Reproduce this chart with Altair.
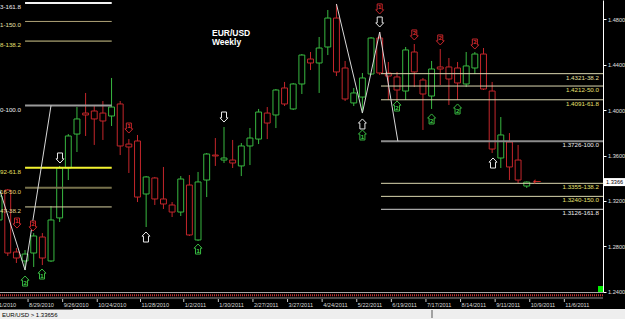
import altair as alt
import pandas as pd

# ---------------- data ----------------
# weekly candles, index 0 = week of 2010-08-08
idx = list(range(62))
opens = [1.3032,1.3296,1.2750,1.2671,1.2741,1.2882,1.2671,1.3050,1.3490,1.3789,
         1.3974,1.3992,1.3974,1.3948,1.4054,1.3701,1.3728,1.3261,1.3402,1.3217,
         1.3164,1.3102,1.3340,1.2856,1.3384,1.3604,1.3560,1.3560,1.3508,1.3684,
         1.3745,1.3974,1.3957,1.4195,1.4010,1.4230,1.4450,1.4415,1.4556,1.4811,
         1.4371,1.4063,1.4115,1.4318,1.4635,1.4327,1.4292,1.4168,1.4512,1.4265,
         1.4124,1.4380,1.4380,1.4371,1.4230,1.4371,1.4494,1.4168,1.3578,1.3719,
         1.3560,1.3331]
closes = [1.3243,1.2741,1.2697,1.2732,1.2891,1.2697,1.3032,1.3490,1.3772,1.3922,
          1.3957,1.3922,1.3904,1.4027,1.3684,1.3675,1.3234,1.3411,1.3217,1.3173,
          1.3102,1.3393,1.2900,1.3367,1.3613,1.3596,1.3578,1.3534,1.3684,1.3754,
          1.3983,1.3886,1.4177,1.4054,1.4230,1.4485,1.4415,1.4547,1.4811,1.4336,
          1.4098,1.4151,1.4283,1.4635,1.4327,1.4300,1.4177,1.4530,1.4336,1.4142,
          1.4362,1.4362,1.4274,1.4239,1.4389,1.4494,1.4186,1.3657,1.3781,1.3499,
          1.3384,1.3366]
highs = [1.3314,1.3305,1.2785,1.2767,1.2917,1.2917,1.3155,1.3508,1.3789,1.4027,
         1.4151,1.4045,1.4080,1.4283,1.4080,1.3745,1.3781,1.3419,1.3411,1.3499,
         1.3190,1.3419,1.3428,1.3455,1.3622,1.3754,1.3851,1.3737,1.3710,1.3842,
         1.4010,1.4027,1.4186,1.4248,1.4239,1.4494,1.4512,1.4644,1.4882,1.4935,
         1.4433,1.4195,1.4327,1.4644,1.4688,1.4424,1.4336,1.4556,1.4582,1.4283,
         1.4433,1.4538,1.4459,1.4424,1.4512,1.4512,1.4547,1.4248,1.3939,1.3798,
         1.3693,1.3372]
lows = [1.2997,1.2715,1.2653,1.2591,1.2618,1.2635,1.2662,1.3014,1.3384,1.3631,
        1.3772,1.3693,1.3737,1.3860,1.3604,1.3446,1.3190,1.2970,1.3164,1.3129,
        1.3058,1.3067,1.2891,1.2847,1.3234,1.3508,1.3534,1.3490,1.3419,1.3516,
        1.3701,1.3745,1.3842,1.4036,1.4001,1.4142,1.4353,1.4151,1.4485,1.4300,
        1.4080,1.4036,1.3974,1.4309,1.4309,1.4089,1.4080,1.4089,1.4203,1.3825,
        1.4010,1.4221,1.4045,1.4089,1.4203,1.4318,1.4177,1.3622,1.3490,1.3384,
        1.3358,1.3314]
current_price = 1.3366

tick_i = [-1, 3, 7, 11, 16, 21, 25, 29, 33, 37, 41, 45, 49, 53, 57, 61, 65]
tick_text = ["8/1/2010", "8/29/2010", "9/26/2010", "10/24/2010", "11/28/2010",
             "1/2/2011", "1/30/2011", "2/27/2011", "3/27/2011", "4/24/2011",
             "5/22/2011", "6/19/2011", "7/17/2011", "8/14/2011", "9/11/2011",
             "10/9/2011", "11/6/2011"]
price_ticks = [1.24, 1.28, 1.32, 1.36, 1.40, 1.44, 1.48]

# Fibonacci sets
left_levels = ["161.8", "150.0", "138.2", "100.0", "61.8", "50.0", "38.2"]
left_prices = [1.4943, 1.4781, 1.4608, 1.4040, 1.3492, 1.3316, 1.3147]
left_line_colors = ["#f2f2f2", "#b0a378", "#d4ca8e", "#9a9a9a", "#f4f430", "#77724c", "#d8d0a2"]
left_line_widths = [2, 1, 1, 2, 2, 2, 1]
left_text_colors = ["#eeeeee", "#e8e2a8", "#e8e070", "#eeeeee", "#e8e060", "#e0d870", "#e0d890"]
left_start, left_end = 3.0, 13.02

right_levels = ["38.2", "50.0", "61.8", "100.0", "138.2", "150.0", "161.8"]
right_prices = [1.4321, 1.4212, 1.4091, 1.3726, 1.3355, 1.3240, 1.3126]
right_line_colors = ["#dcd8b0", "#dcd8b0", "#dcd8b0", "#8c8c8c", "#dcd8b0", "#dcd8b0", "#d0d0d0"]
right_line_widths = [1, 1, 1, 2, 1, 1, 1]
right_text_colors = ["#e8e0a0", "#e8e070", "#e8e070", "#eeeeee", "#e8e070", "#e8e070", "#eeeeee"]
right_start, right_end = 44.15, 69.815

# zigzag / fibo base lines
zz_seg = [0, 0, 0, 1, 1, 1, 1]
zz_i = [0.0, 3.0, 6.0, 39.0, 42.0, 44.0, 46.1]
zz_p = [1.3314, 1.2591, 1.4040, 1.4935, 1.3974, 1.4688, 1.3726]

# arrow signals
arr_i = [2.07, 3.92, 3.0, 4.96, 7.04, 15.0, 16.98, 23.0, 26.0, 42.0, 42.0,
         44.0, 44.0, 46.0, 48.0, 51.0, 55.0, 50.0, 53.0, 57.1]
arr_p = [1.3005, 1.2979, 1.2494, 1.2556, 1.3578, 1.3842, 1.2882, 1.2776, 1.3939,
         1.3878, 1.3781, 1.4891, 1.4776, 1.4036, 1.4662, 1.4618, 1.4582,
         1.3922, 1.4010, 1.3534]
arr_dir = ["down", "down", "up", "up", "down", "down", "up", "up", "down",
           "up", "up", "down", "down", "up", "down", "down", "down", "up", "up", "up"]
arr_col = ["red", "red", "green", "green", "white", "red", "white", "green", "white",
           "white", "green", "red", "white", "green", "red", "red", "red", "green", "green", "white"]
arr_num = ["1", "2", "2", "1", "", "1", "", "1", "", "", "1", "1", "", "2", "2", "2", "2", "2", "2", ""]

# ---------------- styling ----------------
GREEN = "#38b840"
RED = "#c4262b"
col_map = {"green": GREEN, "red": RED, "white": "#e8e8e8"}
FONT = "Liberation Sans, Arial, sans-serif"

candles = pd.DataFrame({"i": idx, "open": opens, "high": highs, "low": lows, "close": closes})
candles["dir"] = ["up" if c >= o else "down" for o, c in zip(opens, closes)]

fib = pd.DataFrame({
    "x0": [left_start] * 7 + [right_start] * 7,
    "x1": [left_end] * 7 + [right_end] * 7,
    "p": left_prices + right_prices,
    "col": left_line_colors + right_line_colors,
    "w": left_line_widths + right_line_widths,
    "tcol": left_text_colors + right_text_colors,
    "label": [f"{p:.4f}-{l}" for p, l in zip(left_prices, left_levels)]
             + [f"{p:.4f}-{l}" for p, l in zip(right_prices, right_levels)],
    "side": ["L"] * 7 + ["R"] * 7,
})
fib["lx"] = [2.53 if s == "L" else 69.35 for s in fib["side"]]

zz = pd.DataFrame({"seg": zz_seg, "i": zz_i, "p": zz_p, "o": list(range(len(zz_i)))})
arrows = pd.DataFrame({"i": arr_i, "p": arr_p, "dir": arr_dir,
                       "col": [col_map[c] for c in arr_col], "num": arr_num})
ticks = pd.DataFrame({"i": tick_i, "t": tick_text})
cur = pd.DataFrame({"p": [current_price], "i": [61.0], "t": [f"{current_price:.4f}"]})
one = pd.DataFrame({"a": [0]})

xs = alt.Scale(domain=[0.104, 69.815], nice=False, zero=False)
ys = alt.Scale(domain=[1.23975, 1.4970], nice=False, zero=False)
yax = alt.Axis(orient="right", values=price_ticks, format=".4f", title=None, grid=False,
               domainColor="#ffffff", domainWidth=1, tickColor="#ffffff", tickSize=3,
               labelColor="#e0e0e0", labelFont=FONT, labelFontSize=5.6, labelPadding=1.5,
               labelOverlap=False)


def X(f):
    return alt.X(f, type="quantitative", scale=xs, axis=None)


def Y(f):
    return alt.Y(f, type="quantitative", scale=ys, axis=yax)


dir_scale = alt.Scale(domain=["up", "down"], range=[GREEN, RED])

wicks = alt.Chart(candles).mark_rule(strokeWidth=1).encode(
    x=X("i"), y=Y("low"), y2=alt.Y2("high"),
    color=alt.Color("dir:N", scale=dir_scale, legend=None))

bodies = alt.Chart(candles).transform_calculate(
    x0="datum.i - 0.34", x1="datum.i + 0.34"
).mark_rect(fill="black", strokeWidth=1).encode(
    x=X("x0:Q"), x2=alt.X2("x1:Q"), y=Y("open"), y2=alt.Y2("close"),
    stroke=alt.Stroke("dir:N", scale=dir_scale, legend=None))

fib_lines = alt.Chart(fib).mark_rule().encode(
    x=X("x0"), x2=alt.X2("x1"), y=Y("p"),
    color=alt.Color("col:N", scale=None), strokeWidth=alt.StrokeWidth("w:Q", scale=None))

fib_left_text = alt.Chart(fib).transform_filter("datum.side == 'L'").mark_text(
    align="right", baseline="top", dy=1, font=FONT, fontSize=6.2).encode(
    x=X("lx"), y=Y("p"), text="label:N", color=alt.Color("tcol:N", scale=None))

fib_right_text = alt.Chart(fib).transform_filter("datum.side == 'R'").mark_text(
    align="right", baseline="top", dy=1, font=FONT, fontSize=6.2).encode(
    x=X("lx"), y=Y("p"), text="label:N", color=alt.Color("tcol:N", scale=None))

zigzag = alt.Chart(zz).mark_line(strokeWidth=1, color="#d8d8d8").encode(
    x=X("i"), y=Y("p"), detail="seg:N", order="o:Q")

UP = "M0,-1.2L0.95,-0.2L0.6,-0.2L0.6,1.2L-0.6,1.2L-0.6,-0.2L-0.95,-0.2Z"
DOWN = "M0,1.2L0.95,0.2L0.6,0.2L0.6,-1.2L-0.6,-1.2L-0.6,0.2L-0.95,0.2Z"

up_arrows = alt.Chart(arrows).transform_filter("datum.dir == 'up'").mark_point(
    shape=UP, size=70, filled=True, fill="black", fillOpacity=1, strokeWidth=1, opacity=1).encode(
    x=X("i"), y=Y("p"), stroke=alt.Stroke("col:N", scale=None))
down_arrows = alt.Chart(arrows).transform_filter("datum.dir == 'down'").mark_point(
    shape=DOWN, size=70, filled=True, fill="black", fillOpacity=1, strokeWidth=1, opacity=1).encode(
    x=X("i"), y=Y("p"), stroke=alt.Stroke("col:N", scale=None))
up_nums = alt.Chart(arrows).transform_filter("datum.dir == 'up' && datum.num != ''").mark_text(
    dy=2, fontSize=5.5, fontWeight="bold", font="DejaVu Sans").encode(
    x=X("i"), y=Y("p"), text="num:N", color=alt.Color("col:N", scale=None))
down_nums = alt.Chart(arrows).transform_filter("datum.dir == 'down' && datum.num != ''").mark_text(
    dy=-2, fontSize=5.5, fontWeight="bold", font="DejaVu Sans").encode(
    x=X("i"), y=Y("p"), text="num:N", color=alt.Color("col:N", scale=None))

# bottom band and date axis
band_top = alt.Chart(one).mark_rule(color="#a8a8a8", strokeWidth=1).encode(
    x=alt.value(0), x2=alt.value(603), y=alt.value(292.5))
band_mid = alt.Chart(one).mark_rule(color="#c03030", strokeWidth=2, strokeDash=[1, 1]).encode(
    x=alt.value(0), x2=alt.value(603), y=alt.value(295.2))
band_bot = alt.Chart(one).mark_rule(color="#909090", strokeWidth=1).encode(
    x=alt.value(0), x2=alt.value(603), y=alt.value(298))
date_ticks = alt.Chart(ticks).mark_rule(color="#c8c8c8", strokeWidth=1, xOffset=3).encode(
    x=X("i"), y=alt.value(299), y2=alt.value(302))
date_text = alt.Chart(ticks).mark_text(align="left", baseline="middle", dx=4, font=FONT,
                                       fontSize=5.6, color="#d8d8d8").encode(
    x=X("i"), y=alt.value(304.5), text="t:N")

status_bg = alt.Chart(one).mark_rect(color="#eeeeee").encode(
    x=alt.value(0), x2=alt.value(625), y=alt.value(309), y2=alt.value(330))
status_line = alt.Chart(one).mark_rule(color="#777777", strokeWidth=1).encode(
    x=alt.value(0), x2=alt.value(73), y=alt.value(309.5))
status_sep = alt.Chart(one).mark_rule(color="#555555", strokeWidth=1).encode(
    x=alt.value(432), y=alt.value(310), y2=alt.value(318))
status_text = alt.Chart(pd.DataFrame({"t": [f"EUR/USD > {1.33656:.5f}"]})).mark_text(
    align="left", baseline="middle", font=FONT, fontSize=6, color="#000000").encode(
    x=alt.value(2), y=alt.value(314.5), text="t:N")

green_sq = alt.Chart(one).mark_rect(color="#00ee00").encode(
    x=alt.value(598), x2=alt.value(603), y=alt.value(286), y2=alt.value(292))

# current price label on axis
cur_box = alt.Chart(cur).mark_rule(color="#ffffff", strokeWidth=8, strokeCap="butt").encode(
    x=alt.value(604), x2=alt.value(625), y=Y("p"))
cur_text = alt.Chart(cur).mark_text(align="left", baseline="middle", font=FONT, fontSize=5.6,
                                    color="#000000").encode(
    x=alt.value(606), y=Y("p"), text="t:N")
cur_arrow = alt.Chart(cur).mark_text(text="\u2190", fontSize=10, color="#e03030", dx=10,
                                     baseline="middle", font="DejaVu Sans").encode(
    x=X("i"), y=Y("p"))

title = alt.Chart(pd.DataFrame({"t": ["EUR/USD", "Weekly"], "yy": [33, 42]})).mark_text(
    align="left", baseline="middle", font="Liberation Sans", fontSize=8.5, fontWeight="bold",
    color="#ffffff").encode(x=alt.value(212), y=alt.Y("yy:Q", scale=None), text="t:N")

chart = alt.layer(
    wicks, bodies, fib_lines, zigzag, fib_left_text, fib_right_text,
    up_arrows, down_arrows, up_nums, down_nums,
    band_top, band_mid, band_bot, date_ticks, date_text,
    status_bg, status_line, status_sep, status_text, green_sq,
    cur_box, cur_text, cur_arrow, title
).properties(
    width=603, height=292,
    autosize=alt.AutoSizeParams(type="none"),
    padding={"left": 0, "top": 0, "right": 22, "bottom": 27},
    background="black",
).configure_view(stroke=None)

chart.save("out.html", embed_options={"renderer": "svg", "actions": False})
